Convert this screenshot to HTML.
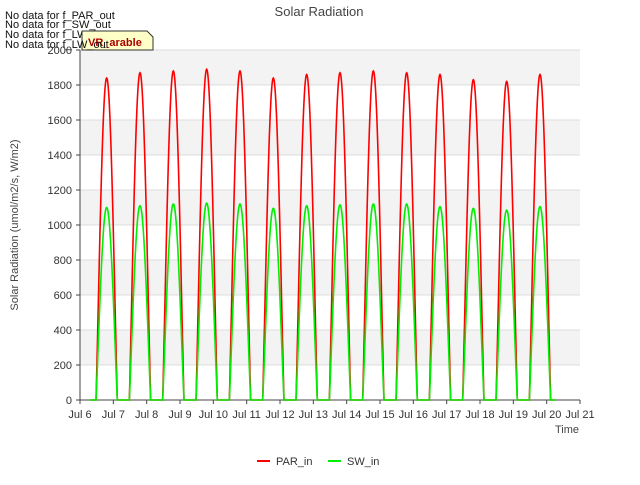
<!DOCTYPE html>
<html><head><meta charset="utf-8"><style>
body{margin:0;background:#fff;font-family:"Liberation Sans",sans-serif}
svg text{font-family:"Liberation Sans",sans-serif}
</style></head><body>
<svg id="c" width="640" height="480">
<text x="319" y="16" text-anchor="middle" font-size="13" fill="#444">Solar Radiation</text>
<g id="plot"></g>
<text x="18" y="225" transform="rotate(-90 18 225)" text-anchor="middle" font-size="11" fill="#444">Solar Radiation (umol/m2/s, W/m2)</text>
<text x="579" y="433" text-anchor="end" font-size="11" fill="#444">Time</text>
<g>
<line x1="257" y1="461" x2="270" y2="461" stroke="#f00" stroke-width="2"/>
<text x="276" y="465" font-size="11" fill="#333">PAR_in</text>
<line x1="328" y1="461" x2="341" y2="461" stroke="#0e0" stroke-width="2"/>
<text x="347" y="465" font-size="11" fill="#333">SW_in</text>
</g>
<g font-size="11" fill="#111">
<text x="5" y="19">No data for f_PAR_out</text>
<text x="5" y="28">No data for f_SW_out</text>
<text x="5" y="38">No data for f_LW_in</text>
<path d="M82 31 H147 L153 37 V50 H82 Z" fill="#ffffc8" stroke="#333"/>
<text x="88" y="46" font-size="11" font-weight="bold" fill="#a00">VR_arable</text>
<text x="5" y="48">No data for f_LW_out</text>
</g>
</svg>
<script>
const yTicks=[0,200,400,600,800,1000,1200,1400,1600,1800,2000];
const xTickLabels=["Jul 6","Jul 7","Jul 8","Jul 9","Jul 10","Jul 11","Jul 12","Jul 13","Jul 14","Jul 15","Jul 16","Jul 17","Jul 18","Jul 19","Jul 20","Jul 21"];
const peakDays=[6.8,7.8,8.8,9.8,10.8,11.8,12.8,13.8,14.8,15.8,16.8,17.8,18.8,19.8];
const parPeaks=[1840,1870,1880,1890,1880,1840,1860,1870,1880,1870,1860,1830,1820,1860];
const swPeaks=[1100,1110,1120,1125,1120,1095,1110,1115,1120,1120,1105,1095,1085,1105];
const X0=80,X1=580,Y0=400,Y1=50;
const xs=d=>X0+(d-6)/15*(X1-X0);
const ys=v=>Y0-v/2000*(Y0-Y1);
const NS="http://www.w3.org/2000/svg";
const g=document.getElementById('plot');
function mk(t,a){const e=document.createElementNS(NS,t);for(const k in a)e.setAttribute(k,a[k]);g.appendChild(e);return e;}
for(let i=0;i<yTicks.length-1;i++){
  if(i%2==1){const r=mk('rect',{x:X0,y:ys(yTicks[i+1]),width:X1-X0,height:ys(yTicks[i])-ys(yTicks[i+1]),fill:'#f3f3f3'});
  }
}
yTicks.forEach(v=>{
  const l=mk('line',{x1:X0,x2:X1,y1:ys(v),y2:ys(v),stroke:'#ddd'});
  
  mk('line',{x1:X0-4,x2:X0,y1:ys(v),y2:ys(v),stroke:'#444'});
  const t=mk('text',{x:X0-8,y:ys(v)+4,'text-anchor':'end','font-size':11,fill:'#333'});t.textContent=v;
  
});
xTickLabels.forEach((s,i)=>{
  const x=xs(6+i);
  mk('line',{x1:x,x2:x,y1:Y0,y2:Y0+4,stroke:'#444'});
  const t=mk('text',{x:x,y:Y0+18,'text-anchor':'middle','font-size':11,fill:'#333'});t.textContent=s;
  
});
mk('line',{x1:X0,x2:X1,y1:Y0,y2:Y0,stroke:'#444'});
mk('line',{x1:X0,x2:X0,y1:Y0,y2:Y1,stroke:'#444'});
function series(peaks,color,name){
  let d='';const start=6.3,end=20.25,step=0.01;
  for(let t=start;t<=end+1e-9;t+=step){
    let v=0;
    peakDays.forEach((p,i)=>{const u=(t-p)/0.32;if(Math.abs(u)<1)v+=peaks[i]*Math.pow(Math.cos(u*Math.PI/2),1.1);});
    d+=(d?'L':'M')+xs(t).toFixed(2)+' '+ys(v).toFixed(2);
  }
  const p=mk('path',{d:d,fill:'none',stroke:color,'stroke-width':1.6});
  
}
series(parPeaks,'#f00','par-in-line');
series(swPeaks,'#0e0','sw-in-line');
</script>
</body></html>
